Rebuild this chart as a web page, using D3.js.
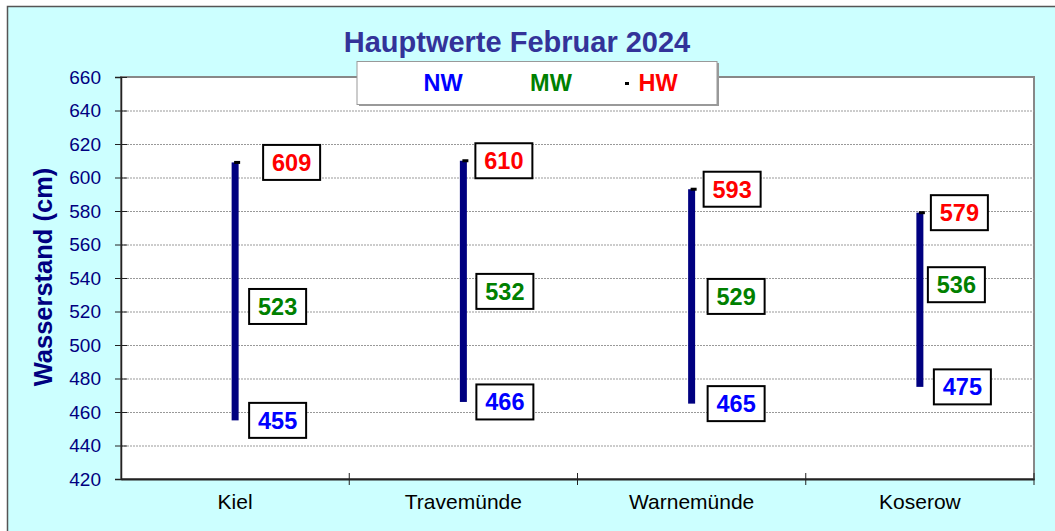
<!DOCTYPE html>
<html>
<head>
<meta charset="utf-8">
<script src="https://cdn.jsdelivr.net/npm/d3@7"></script>
<style>
  body { margin: 0; background: #fff; }
  svg { display: block; font-family: "Liberation Sans", Arial, sans-serif; }
</style>
</head>
<body>
<svg width="1055" height="531"></svg>
<script>
// Hauptwerte Februar 2024
var stations = ["Kiel", "Travemünde", "Warnemünde", "Koserow"];
var nw = [455, 466, 465, 475];
var mw = [523, 532, 529, 536];
var hw = [609, 610, 593, 579];
var yTicks = [420, 440, 460, 480, 500, 520, 540, 560, 580, 600, 620, 640, 660];

// label box offsets from the bar (placed by hand in the original)
var hwDx = [28, 12, 12, 11],
    mwDx = [14, 13, 16, 8],
    nwDx = [14, 13, 16, 14];

var svg = d3.select("svg");
var plot = { left: 121, top: 77, right: 1034, bottom: 479 };

// outer frame
svg.append("rect")
  .attr("x", 7.5).attr("y", 6.5)
  .attr("width", 1060).attr("height", 540)
  .attr("fill", "#ccffff")
  .attr("stroke", "#555").attr("stroke-width", 1.5);

var x = d3.scaleBand()
  .domain(stations)
  .range([plot.left, plot.right]);

var y = d3.scaleLinear()
  .domain([420, 660])
  .range([plot.bottom, plot.top]);

// plot area
svg.append("rect")
  .attr("x", plot.left).attr("y", plot.top)
  .attr("width", plot.right - plot.left)
  .attr("height", plot.bottom - plot.top)
  .attr("fill", "#fff")
  .attr("stroke", "#888").attr("stroke-width", 2);

// gridlines
svg.append("g")
  .selectAll("line")
  .data(yTicks.slice(1, -1))
  .enter().append("line")
  .attr("x1", plot.left).attr("x2", plot.right)
  .attr("y1", function(d) { return y(d) + 0.5; })
  .attr("y2", function(d) { return y(d) + 0.5; })
  .attr("stroke", "#999")
  .attr("stroke-dasharray", "2,1");

// y axis
var yAxis = svg.append("g")
  .attr("transform", "translate(" + plot.left + ",0)")
  .call(d3.axisLeft(y).tickValues(yTicks).tickSize(6).tickPadding(14));
yAxis.select(".domain").attr("stroke", "#222").attr("stroke-width", 1.5);
yAxis.selectAll(".tick line").attr("stroke", "#222").attr("x2", 6).attr("x1", -6);
yAxis.selectAll("text")
  .attr("fill", "#000080")
  .attr("font-size", 19)
  .attr("font-family", "Liberation Sans, Arial, sans-serif");

// x axis
var xAxis = svg.append("g")
  .attr("transform", "translate(0," + plot.bottom + ")")
  .call(d3.axisBottom(x).tickSize(0).tickPadding(15));
xAxis.select(".domain").attr("stroke", "#222").attr("stroke-width", 2);
xAxis.selectAll("text")
  .attr("fill", "#000")
  .attr("font-size", 21)
  .attr("font-family", "Liberation Sans, Arial, sans-serif");

// category separator ticks
svg.append("g")
  .selectAll("line")
  .data(stations.slice(1).concat(["end"]))
  .enter().append("line")
  .attr("x1", function(d) { return d === "end" ? plot.right : x(d); })
  .attr("x2", function(d) { return d === "end" ? plot.right : x(d); })
  .attr("y1", plot.bottom - 6).attr("y2", plot.bottom + 6)
  .attr("stroke", "#222");

// bars NW -> HW
var cx = function(i) { return x(stations[i]) + x.bandwidth() / 2; };

svg.append("g")
  .selectAll("rect")
  .data(stations)
  .enter().append("rect")
  .attr("x", function(d, i) { return cx(i) - 3.5; })
  .attr("width", 7)
  .attr("y", function(d, i) { return y(hw[i]); })
  .attr("height", function(d, i) { return y(nw[i]) - y(hw[i]); })
  .attr("fill", "#000080");

// HW marker
svg.append("g")
  .selectAll("rect")
  .data(stations)
  .enter().append("rect")
  .attr("x", function(d, i) { return cx(i) - 1; })
  .attr("width", 6)
  .attr("y", function(d, i) { return y(hw[i]) - 1.5; })
  .attr("height", 3)
  .attr("fill", "#000");

// value labels
function labels(values, dx, color) {
  var g = svg.append("g")
    .selectAll("g")
    .data(values)
    .enter().append("g")
    .attr("transform", function(d, i) {
      return "translate(" + (cx(i) + dx[i]) + "," + y(d) + ")";
    });
  g.append("rect")
    .attr("x", 0).attr("y", -17.5)
    .attr("width", 57).attr("height", 35)
    .attr("fill", "#fff")
    .attr("stroke", "#000").attr("stroke-width", 2);
  g.append("text")
    .attr("x", 28.5).attr("y", 8.5)
    .attr("text-anchor", "middle")
    .attr("font-size", 23.5)
    .attr("font-weight", "bold")
    .attr("fill", color)
    .text(function(d) { return d; });
}
labels(hw, hwDx, "#ff0000");
labels(mw, mwDx, "#008000");
labels(nw, nwDx, "#0000ff");

// title
svg.append("text")
  .attr("x", 517).attr("y", 52)
  .attr("text-anchor", "middle")
  .attr("font-size", 29)
  .attr("font-weight", "bold")
  .attr("fill", "#333399")
  .text("Hauptwerte Februar 2024");

// y axis title
svg.append("text")
  .attr("transform", "translate(52,277) rotate(-90)")
  .attr("text-anchor", "middle")
  .attr("font-size", 25.5)
  .attr("font-weight", "bold")
  .attr("fill", "#000080")
  .text("Wasserstand (cm)");

// legend
var legend = svg.append("g");
legend.append("rect")
  .attr("x", 359).attr("y", 63)
  .attr("width", 360).attr("height", 43)
  .attr("fill", "#999");
legend.append("rect")
  .attr("x", 357).attr("y", 61.5)
  .attr("width", 360).attr("height", 43)
  .attr("fill", "#fff")
  .attr("stroke", "#999");
var legendItems = [
  { name: "NW", color: "#0000ff", x: 443 },
  { name: "MW", color: "#008000", x: 551 },
  { name: "HW", color: "#ff0000", x: 658 }
];
legend.selectAll("text")
  .data(legendItems)
  .enter().append("text")
  .attr("x", function(d) { return d.x; })
  .attr("y", 91)
  .attr("text-anchor", "middle")
  .attr("font-size", 23.5)
  .attr("font-weight", "bold")
  .attr("fill", function(d) { return d.color; })
  .text(function(d) { return d.name; });
legend.append("rect")
  .attr("x", 625).attr("y", 82)
  .attr("width", 4).attr("height", 3)
  .attr("fill", "#000");
</script>
</body>
</html>
